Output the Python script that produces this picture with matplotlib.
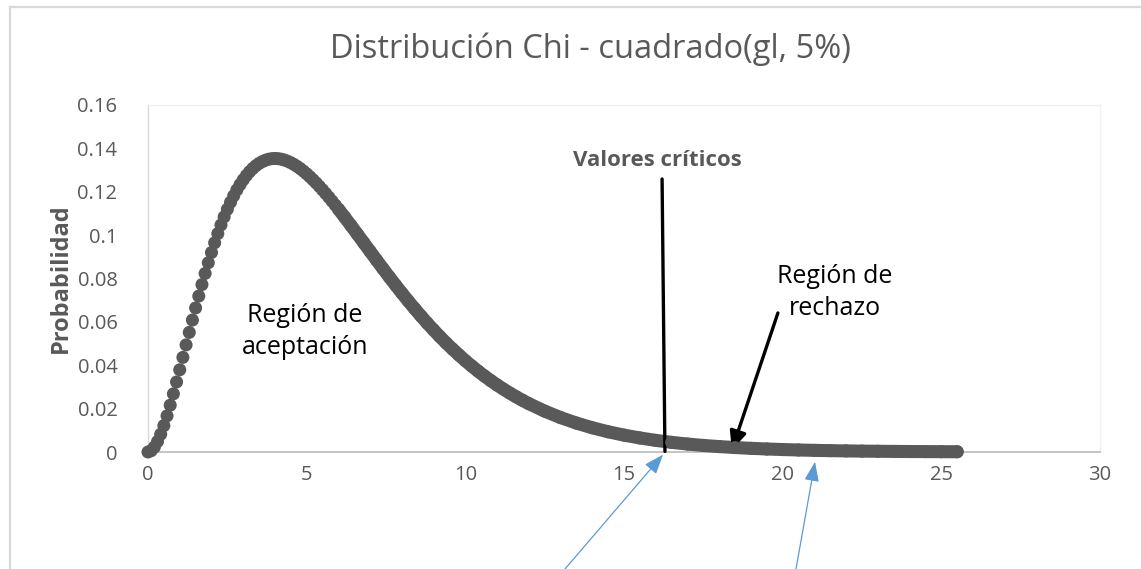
import matplotlib
matplotlib.use("Agg")
import matplotlib.pyplot as plt
from matplotlib.lines import Line2D

plt.rcParams['font.family'] = ['Open Sans', 'DejaVu Sans']

# ---- data (chi-square density, dense points) ----
x_fine = [0.0, 0.1, 0.2, 0.3, 0.4, 0.5, 0.6, 0.7, 0.8, 0.9,
          1.0, 1.1, 1.2, 1.3, 1.4, 1.5, 1.6, 1.7, 1.8, 1.9,
          2.0, 2.1, 2.2, 2.3, 2.4, 2.5, 2.6, 2.7, 2.8, 2.9,
          3.0, 3.1, 3.2, 3.3, 3.4, 3.5, 3.6, 3.7, 3.8, 3.9,
          4.0, 4.1, 4.2, 4.3, 4.4, 4.5, 4.6, 4.7, 4.8, 4.9,
          5.0, 5.1, 5.2, 5.3, 5.4, 5.5, 5.6, 5.7, 5.8, 5.9]
y_fine = [0.0, 0.000595, 0.002262, 0.004841, 0.008187, 0.012169, 0.016668, 0.021581, 0.026813, 0.032280,
          0.037908, 0.043632, 0.049393, 0.055141, 0.060832, 0.066427, 0.071893, 0.077202, 0.082330, 0.087259,
          0.091970, 0.096452, 0.100693, 0.104688, 0.108430, 0.111916, 0.115145, 0.118116, 0.120833, 0.123296,
          0.125511, 0.127482, 0.129214, 0.130714, 0.131989, 0.133046, 0.133892, 0.134536, 0.134986, 0.135249,
          0.135335, 0.135252, 0.135008, 0.134612, 0.134072, 0.133396, 0.132593, 0.131669, 0.130634, 0.129495,
          0.128258, 0.126932, 0.125523, 0.124037, 0.122483, 0.120864, 0.119188, 0.117459, 0.115686, 0.113872]
x_tail = [6.0, 6.2, 6.4, 6.6, 6.8, 7.0, 7.2, 7.4, 7.6, 7.8,
          8.0, 8.2, 8.4, 8.6, 8.8, 9.0, 9.2, 9.4, 9.6, 9.8,
          10.0, 10.2, 10.4, 10.6, 10.8, 11.0, 11.2, 11.4, 11.6, 11.8,
          12.0, 12.5, 13.0, 13.5, 14.0, 14.5, 15.0, 15.5, 16.0, 16.5,
          17.0, 17.5, 18.0, 18.5, 19.0, 19.5, 20.0, 20.5, 21.0, 21.5,
          22.0, 22.5, 23.0, 23.5, 24.0, 24.5, 25.0, 25.5]
y_tail = [0.112021, 0.108230, 0.104351, 0.100414, 0.096448, 0.092478, 0.088530, 0.084618, 0.080759, 0.076970,
          0.073263, 0.069648, 0.066132, 0.062723, 0.059421, 0.056239, 0.053175, 0.050227, 0.047405, 0.044701,
          0.042112, 0.039646, 0.037295, 0.035056, 0.032929, 0.030908, 0.028992, 0.027178, 0.025465, 0.023836,
          0.022311, 0.018848, 0.015876, 0.013338, 0.011172, 0.009330, 0.007777, 0.006472, 0.005367, 0.004441,
          0.003667, 0.003024, 0.002499, 0.002056, 0.001690, 0.001386, 0.001135, 0.000930, 0.000758, 0.000618,
          0.000505, 0.000411, 0.000334, 0.000273, 0.000220, 0.000180, 0.000145, 0.000118]

x_ticks = [0, 5, 10, 15, 20, 25, 30]
y_ticks = [0, 0.02, 0.04, 0.06, 0.08, 0.1, 0.12, 0.14, 0.16]
y_tick_labels = ['0', '0.02', '0.04', '0.06', '0.08', '0.1', '0.12', '0.14', '0.16']

title = 'Distribución Chi - cuadrado(gl, 5%)'
ylabel = 'Probabilidad'

GRAY = '#595959'
W, H = 1141, 569

fig = plt.figure(figsize=(W / 100, H / 100), dpi=100)
ax = fig.add_axes([148 / W, 1 - 452 / H, (1100 - 148) / W, (452 - 105) / H])

# curve: thick band for the flat tail + dots everywhere
ax.plot(x_tail, y_tail, '-', color=GRAY, lw=9.4, solid_capstyle='round',
        clip_on=False, zorder=3)
ax.scatter(x_fine + x_tail, y_fine + y_tail, s=88, color=GRAY, edgecolors='none',
           clip_on=False, zorder=4)

ax.set_xlim(0, 30)
ax.set_ylim(0, 0.16)
ax.set_xticks(x_ticks)
ax.set_yticks(y_ticks)
ax.set_yticklabels(y_tick_labels)
ax.tick_params(axis='both', length=0, labelsize=14.5, labelcolor=GRAY)
ax.tick_params(axis='x', pad=9)
ax.tick_params(axis='y', pad=22)

ax.spines['bottom'].set_color('#BFBFBF')
ax.spines['bottom'].set_linewidth(1.3)
ax.spines['left'].set_color('#D9D9D9')
ax.spines['left'].set_linewidth(1.0)
for s in ('top', 'right'):
    ax.spines[s].set_color('#F0F0F0')
    ax.spines[s].set_linewidth(1.0)

ax.set_ylabel(ylabel, fontsize=17, fontweight='bold', color=GRAY, va='center')
ax.yaxis.set_label_coords((61 - 148) / 952, 0.5)

fig.text(590 / W, 1 - 58 / H, title, fontsize=23.5, color=GRAY,
         ha='center', va='baseline')

# annotations
ax.text(16.04, 0.1346, 'Valores críticos', fontsize=16, fontweight='bold',
        color=GRAY, ha='center', va='center')
ax.annotate('', xy=(16.29, 0.0003), xytext=(16.2, 0.1259),
            arrowprops=dict(arrowstyle='-', color='black', lw=2.4,
                            shrinkA=0, shrinkB=0), annotation_clip=False)

ax.text(21.65, 0.0735, 'Región de\nrechazo', fontsize=18, color='black',
        ha='center', va='center', linespacing=1.4)
ax.annotate('', xy=(18.4, 0.001), xytext=(19.85, 0.0641),
            arrowprops=dict(arrowstyle='-|>,head_length=0.55,head_width=0.25',
                            mutation_scale=20, color='black', lw=2.4,
                            shrinkA=0, shrinkB=0), annotation_clip=False)

ax.text(4.95, 0.0555, 'Región de\naceptación', fontsize=18, color='black',
        ha='center', va='center', linespacing=1.4)

BLUE = '#5B9BD5'
ax.annotate('', xy=(16.23, -0.0012), xytext=(565, 0), textcoords='figure pixels',
            arrowprops=dict(arrowstyle='-|>,head_length=0.8,head_width=0.3',
                            mutation_scale=15, color=BLUE, lw=0.9,
                            shrinkA=0, shrinkB=0), annotation_clip=False)
ax.annotate('', xy=(21.02, -0.0045), xytext=(796, 0), textcoords='figure pixels',
            arrowprops=dict(arrowstyle='-|>,head_length=0.8,head_width=0.3',
                            mutation_scale=15, color=BLUE, lw=0.9,
                            shrinkA=0, shrinkB=0), annotation_clip=False)

# outer chart border (top and left visible)
bx = 9.5 / W
by = 1 - 6.5 / H
fig.add_artist(Line2D([bx, 1.0], [by, by], transform=fig.transFigure,
                      color='#D9D9D9', lw=1.6))
fig.add_artist(Line2D([bx, bx], [0.0, by], transform=fig.transFigure,
                      color='#D9D9D9', lw=1.6))

fig.savefig('out.png', dpi=100)
